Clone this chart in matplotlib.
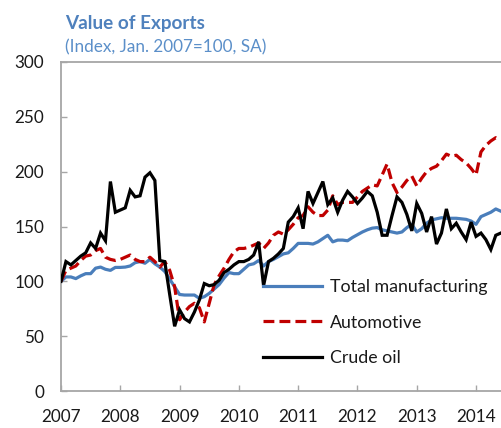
import matplotlib
matplotlib.use("Agg")
import matplotlib.pyplot as plt
import numpy as np

plt.rcParams['font.family'] = ['Lato', 'DejaVu Sans']

title = "Value of Exports"
subtitle = "(Index, Jan. 2007=100, SA)"
series_names = ["Total manufacturing", "Automotive", "Crude oil"]
year_ticks = [2007, 2008, 2009, 2010, 2011, 2012, 2013, 2014]
y_ticks = [0, 50, 100, 150, 200, 250, 300]

# Monthly values, Jan 2007 - Jun 2014
total_manufacturing = [
    100, 104, 104, 102.5, 105, 107, 107, 112, 113, 111, 110, 112.7,
    112.7, 113, 114, 117, 118, 116.5, 120, 116, 113, 109, 102, 95,
    88, 87.5, 87.5, 87.5, 84.5, 86, 89, 93, 97, 103, 108, 107,
    107, 111, 115, 116, 119, 114, 118, 120, 122.5, 125, 126, 130,
    134.6, 134.6, 134.6, 134, 136, 139, 142, 136, 137.6, 137.6, 137, 140,
    142.5, 145, 147, 148.5, 149, 147, 146, 145, 144, 145, 149, 152,
    145, 148, 153, 156, 157, 158, 157.5, 157.5, 157.5, 157, 156.5, 155,
    152, 159, 161, 163, 166, 164,
]
automotive = [
    100, 110, 112, 114, 119, 123, 124, 128, 130, 122, 120, 119,
    120, 122, 124, 120, 118, 118, 122, 118, 113, 118, 110, 95,
    65, 72, 77, 80, 76, 63, 80, 97, 105, 112, 120, 127,
    130, 130, 131, 133, 135, 130, 135, 142, 145, 143, 147, 152,
    158, 160, 168, 163, 160, 160, 165, 178, 170, 172, 172, 172,
    177, 182, 185, 188, 187, 197, 207, 190, 181, 186, 192, 196,
    187, 194, 200, 203, 205, 210, 216, 214, 215, 211, 208, 203,
    197, 218, 224, 228, 231, 229,
]
crude_oil = [
    100, 118, 115, 119, 123, 126, 135, 130, 144, 137, 191, 163,
    165, 167, 183, 177, 178, 195, 199, 192, 119, 118, 88, 59,
    74, 66, 63, 72, 83, 98, 96, 97, 101, 108, 111, 115,
    118, 118, 120, 124, 136, 96, 118, 121, 125, 130, 154, 159,
    167, 148, 182, 171, 181, 191, 170, 176, 163, 174, 182, 177,
    171, 176, 182, 178, 163, 142, 142, 160, 177, 172, 161, 146,
    171, 162, 145, 159, 134, 144, 166, 148, 153, 145, 138, 154,
    141, 144, 138, 129, 142, 144,
]

months = np.arange(len(crude_oil))
x = 2007 + months / 12.0

fig = plt.figure(figsize=(5.02, 4.28), dpi=100)
W, H = 502, 428
ax = fig.add_axes([61 / W, (H - 391) / H, 441 / W, 329 / H])

blue = '#4A7EBB'
red = '#C00000'
ax.plot(x, total_manufacturing, color=blue, lw=2.3, label=series_names[0],
        solid_joinstyle='round', zorder=2)
ax.plot(x, automotive, color=red, lw=2.3, dashes=(3.4, 1.6), label=series_names[1], zorder=3)
ax.plot(x, crude_oil, color='black', lw=2.3, label=series_names[2],
        solid_joinstyle='miter', zorder=4)

ax.set_xlim(2007, 2007 + 441 / 59.29)
ax.set_ylim(0, 300)
ax.set_xticks(year_ticks)
ax.set_xticklabels([str(y) for y in year_ticks])
ax.set_yticks(y_ticks)

spine_c = '#A6A6A6'
for s in ['left', 'top', 'bottom']:
    ax.spines[s].set_color(spine_c)
    ax.spines[s].set_linewidth(1.3)
ax.spines['right'].set_visible(False)
ax.tick_params(axis='both', direction='in', length=4.5, width=1.0, color=spine_c,
               labelsize=12.3, labelcolor='#1a1a1a')
ax.tick_params(axis='y', pad=12)
ax.tick_params(axis='x', pad=13)

leg = ax.legend(loc='upper left', bbox_to_anchor=(263 / W, 1 - 279 / H),
                bbox_transform=fig.transFigure, frameon=False, fontsize=12.8,
                handlelength=3.3, handletextpad=0.45, labelspacing=1.1,
                borderpad=0, borderaxespad=0)
for t in leg.get_texts():
    t.set_color('#1a1a1a')

fig.text(65 / W, 1 - 29.5 / H, title, ha='left', va='baseline', fontsize=13.6,
         fontweight='bold', color='#4F81BD')
fig.text(65 / W, 1 - 52.5 / H, subtitle, ha='left', va='baseline', fontsize=12.3,
         color='#5B8FC9')

fig.savefig('out.png', dpi=100)
